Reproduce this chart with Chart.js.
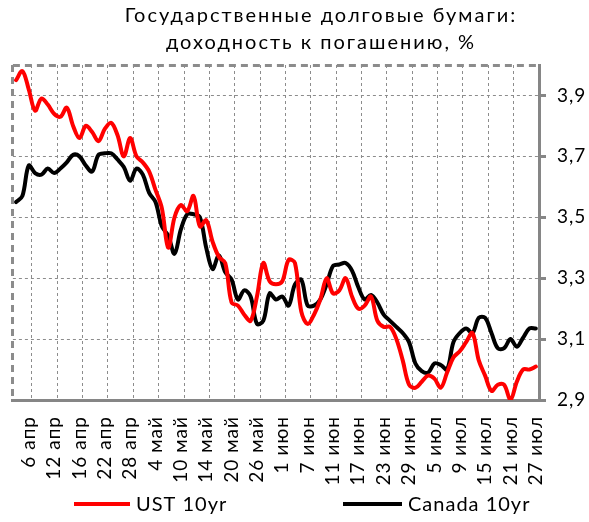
<!DOCTYPE html>
<html>
<head>
<meta charset="utf-8">
<script src="https://cdn.jsdelivr.net/npm/chart.js@4.4.1/dist/chart.umd.min.js"></script>
<style>
  body { margin: 0; background: #fff; }
  canvas { display: block; }
</style>
</head>
<body>
<canvas id="chart" width="589" height="522"></canvas>
<script>
// business days, 2 Apr - 27 Jul 2010
const days = [
  '2 апр', '5 апр', '6 апр', '7 апр', '8 апр', '9 апр', '12 апр', '13 апр', '14 апр', '15 апр',
  '16 апр', '19 апр', '20 апр', '21 апр', '22 апр', '23 апр', '26 апр', '27 апр', '28 апр', '29 апр',
  '30 апр', '3 май', '4 май', '5 май', '6 май', '7 май', '10 май', '11 май', '12 май', '13 май',
  '14 май', '17 май', '18 май', '19 май', '20 май', '21 май', '24 май', '25 май', '26 май', '27 май',
  '28 май', '31 май', '1 июн', '2 июн', '3 июн', '4 июн', '7 июн', '8 июн', '9 июн', '10 июн',
  '11 июн', '14 июн', '15 июн', '16 июн', '17 июн', '18 июн', '21 июн', '22 июн', '23 июн', '24 июн',
  '25 июн', '28 июн', '29 июн', '30 июн', '1 июл', '2 июл', '5 июл', '6 июл', '7 июл', '8 июл',
  '9 июл', '12 июл', '13 июл', '14 июл', '15 июл', '16 июл', '19 июл', '20 июл', '21 июл', '22 июл',
  '23 июл', '26 июл', '27 июл'
];

const ust10 = [
  3.95, 3.98, 3.92, 3.85, 3.89, 3.87, 3.84, 3.83, 3.86, 3.80,
  3.76, 3.80, 3.78, 3.75, 3.79, 3.81, 3.77, 3.70, 3.76, 3.70,
  3.68, 3.65, 3.59, 3.53, 3.40, 3.50, 3.54, 3.52, 3.57, 3.47,
  3.49, 3.42, 3.37, 3.35, 3.22, 3.21, 3.18, 3.16, 3.24, 3.35,
  3.29, 3.28, 3.29, 3.36, 3.35, 3.19, 3.15, 3.18, 3.23, 3.30,
  3.25, 3.26, 3.30, 3.24, 3.20, 3.21, 3.24, 3.16, 3.14, 3.14,
  3.10, 3.03, 2.95, 2.94, 2.96, 2.98, 2.97, 2.94, 2.99, 3.04,
  3.06, 3.09, 3.12, 3.03, 2.98, 2.93, 2.95, 2.95, 2.90, 2.96,
  3.00, 3.00, 3.01
];

const can10 = [
  3.55, 3.57, 3.67, 3.645, 3.64, 3.66, 3.645, 3.66, 3.68, 3.705,
  3.70, 3.67, 3.65, 3.705, 3.71, 3.71, 3.69, 3.665, 3.62, 3.66,
  3.64, 3.58, 3.55, 3.47, 3.44, 3.38, 3.46, 3.51, 3.51, 3.50,
  3.40, 3.33, 3.375, 3.32, 3.295, 3.23, 3.26, 3.24, 3.15, 3.16,
  3.25, 3.23, 3.24, 3.21, 3.28, 3.295, 3.21, 3.21, 3.23, 3.28,
  3.34, 3.345, 3.35, 3.325, 3.27, 3.23, 3.245, 3.22, 3.18, 3.16,
  3.14, 3.12, 3.09, 3.02, 2.995, 2.99, 3.02, 3.015, 3.00, 3.09,
  3.12, 3.135, 3.12, 3.17, 3.17, 3.12, 3.07, 3.07, 3.10, 3.075,
  3.105, 3.135, 3.135
];

const yTicks = [2.9, 3.1, 3.3, 3.5, 3.7, 3.9, 4.0];
const titleLines = ['Государственные долговые бумаги:', 'доходность к погашению, %'];

const FONT = 'Lato, "Open Sans", sans-serif';
const GRID = '#8c8c8c';
const AXIS = '#868686';

// title + legend drawn by hand so they sit where the original has them
const textPlugin = {
  id: 'texts',
  beforeDraw(chart) {
    // the original's labels are loosely spaced
    chart.ctx.letterSpacing = '1px';
  },
  afterDraw(chart) {
    const c = chart.ctx;
    c.save();
    c.fillStyle = '#000';
    c.letterSpacing = '2px';
    c.font = '20px ' + FONT;
    c.textAlign = 'center';
    c.textBaseline = 'alphabetic';
    c.fillText(titleLines[0], 321, 22);
    c.fillText(titleLines[1], 321, 49);

    const items = [[74, 130], [343, 402]];
    c.letterSpacing = '1px';
    c.font = '20px ' + FONT;
    c.textAlign = 'left';
    c.textBaseline = 'middle';
    chart.data.datasets.forEach((ds, i) => {
      const [x1, x2] = items[i];
      c.strokeStyle = ds.borderColor;
      c.lineWidth = 4;
      c.beginPath();
      c.moveTo(x1, 504);
      c.lineTo(x2, 504);
      c.stroke();
      c.fillText(ds.label, x2 + 6, 505);
    });
    c.restore();
  }
};

new Chart(document.getElementById('chart'), {
  type: 'line',
  data: {
    labels: days,
    datasets: [
      {
        label: 'UST 10yr',
        data: ust10,
        borderColor: '#ff0000',
        borderWidth: 4,
        pointRadius: 0,
        tension: 0.35,
        borderJoinStyle: 'round',
        borderCapStyle: 'round'
      },
      {
        label: 'Canada 10yr',
        data: can10,
        borderColor: '#000000',
        borderWidth: 4,
        pointRadius: 0,
        tension: 0.35,
        borderJoinStyle: 'round',
        borderCapStyle: 'round'
      }
    ]
  },
  options: {
    responsive: false,
    animation: false,
    layout: { padding: { top: 65, left: 11, right: 2, bottom: 36 } },
    plugins: {
      legend: { display: false },
      title: { display: false },
      tooltip: { enabled: false }
    },
    scales: {
      x: {
        type: 'category',
        offset: true,
        afterFit: (s) => { s.height = 86; },
        grid: {
          offset: true,
          drawTicks: false,
          color: (c) => (c.index === 0 || (c.index % 4 === 3 && c.index < days.length)) ? GRID : 'transparent',
          lineWidth: (c) => c.index === 0 ? 3 : 1
        },
        border: {
          color: AXIS,
          width: 3,
          dash: (c) => c.index === 0 ? [7, 5] : [3, 3]
        },
        ticks: {
          autoSkip: false,
          minRotation: 90,
          maxRotation: 90,
          padding: 16,
          color: '#000',
          font: { family: FONT, size: 19 },
          callback: (v, i) => (i - 2) % 4 === 0 ? days[i] : ''
        }
      },
      y: {
        position: 'right',
        min: 2.9,
        max: 4.0,
        afterBuildTicks: (s) => { s.ticks = yTicks.map(v => ({ value: v })); },
        afterFit: (s) => { s.width = 48; },
        grid: {
          color: (c) => c.index === 0 ? 'transparent' : GRID,
          lineWidth: (c) => c.index === 6 ? 3 : 1,
          tickLength: 7,
          tickWidth: 3,
          tickColor: (c) => c.index === 6 ? 'transparent' : AXIS,
          tickBorderDash: []
        },
        border: {
          color: AXIS,
          width: 3,
          dash: (c) => c.index === 6 ? [7, 5] : [3, 3]
        },
        ticks: {
          padding: 11,
          color: '#000',
          font: { family: FONT, size: 19 },
          callback: (v) => v >= 3.95 ? '' : v.toFixed(1).replace('.', ',')
        }
      }
    }
  },
  plugins: [textPlugin]
});
</script>
</body>
</html>
